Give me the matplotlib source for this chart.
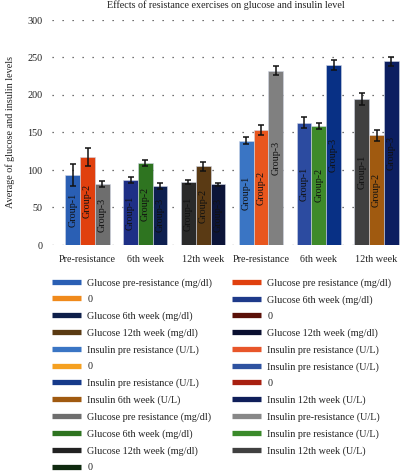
import numpy as np
import matplotlib.pyplot as plt
from matplotlib.lines import Line2D

# ----- data -----
categories = ["Pre-resistance", "6th week", "12th week",
              "Pre-resistance", "6th week", "12th week"]
groups = ["Group-1", "Group-2", "Group-3"]

# rows = categories, cols = group 1..3
means = np.array([
    [93, 117, 81],
    [87, 109, 79],
    [84, 105, 81],
    [139, 153, 232],
    [163, 159, 240],
    [194, 146, 245],
])
errors = np.array([
    [15, 12, 4],
    [4, 4, 4],
    [3, 6, 2],
    [5, 7, 6],
    [7, 4, 7],
    [8, 7, 6],
])
bar_colors = [
    ["#2a5fb4", "#e0400e", "#6e6e6e"],
    ["#1e2f86", "#2e7420", "#0e2050"],
    ["#2a2a2a", "#5a3a14", "#0c1438"],
    ["#3a75c4", "#e8561e", "#808080"],
    ["#2c4ba0", "#3e8a2a", "#083085"],
    ["#404040", "#a05a10", "#0c1e60"],
]

legend_left_labels = [
    "Glucose pre-resistance (mg/dl)", "0", "Glucose 6th week (mg/dl)",
    "Glucose 12th week (mg/dl)", "Insulin pre resistance (U/L)", "0",
    "Insulin pre resistance (U/L)", "Insulin 6th week (U/L)",
    "Glucose pre resistance (mg/dl)", "Glucose 6th week (mg/dl)",
    "Glucose 12th week (mg/dl)", "0",
]
legend_left_colors = [
    "#2a5fb4", "#f08a1c", "#0e1f4a", "#5a3a12", "#3a75c4", "#f5a020",
    "#163a8a", "#a05a10", "#6e6e6e", "#2e7420", "#222222", "#0f2a0f",
]
legend_right_labels = [
    "Glucose pre resistance (mg/dl)", "Glucose 6th week (mg/dl)", "0",
    "Glucose 12th week (mg/dl)", "Insulin pre resistance (U/L)",
    "Insulin pre resistance (U/L)", "0", "Insulin 12th week (U/L)",
    "Insulin pre-resistance (U/L)", "Insulin pre resistance (U/L)",
    "Insulin 12th week (U/L)",
]
legend_right_colors = [
    "#e0400e", "#1e3a8a", "#5a1008", "#0a0f30", "#e8562a", "#2e52a0",
    "#a82010", "#0f1e5a", "#888888", "#3a8a2a", "#404040",
]

plt.rcParams['font.family'] = ['Liberation Serif', 'DejaVu Serif']
text_color = "#222222"

fig = plt.figure(figsize=(4.09, 4.73), dpi=100)
ax = fig.add_axes([52 / 409, 1 - 245 / 473, 348 / 409, 225 / 473])

x = np.arange(len(categories))
width = 0.255
for g in range(len(groups)):
    xs = x + (g - 1) * width
    cols = [bar_colors[c][g] for c in range(len(categories))]
    bars = ax.bar(xs, means[:, g], width, color=cols, edgecolor="#d0d6e4",
                  linewidth=0.4, zorder=2)
    ax.errorbar(xs, means[:, g], yerr=errors[:, g], fmt='none', ecolor='#111111',
                elinewidth=1.1, capsize=2.5, capthick=1.1, zorder=3)
    for xi, h in zip(xs, means[:, g]):
        ax.text(xi, h / 2, groups[g], rotation=90, ha='center', va='center',
                fontsize=7.2, color='#111111', zorder=4)

ax.set_xlim(-0.615, 5.405)
ax.set_ylim(0, 300)
ax.set_yticks(np.arange(0, 301, 50))
ax.set_xticks(x)
ax.set_xticklabels(categories)
ax.tick_params(axis='both', length=0, labelsize=7.3, colors=text_color)
ax.tick_params(axis='x', pad=7)
ax.tick_params(axis='y', pad=7)
for s in ax.spines.values():
    s.set_visible(False)
ax.yaxis.grid(True, linestyle=(0, (1, 7)), color='#444444', linewidth=0.9, zorder=0)
ax.set_axisbelow(True)

ax.set_title("Effects of resistance exercises on glucose and insulin level",
             fontsize=7.3, color=text_color, pad=9)
fig.text(5 / 409, 1 - 132 / 473, "Average of glucose and insulin levels",
         rotation=90, ha='left', va='center', fontsize=7.3, color=text_color)

def make_legend(labels, colors, left_px):
    handles = [Line2D([], [], color=c, linewidth=3.8, solid_capstyle='butt')
               for c in colors]
    fig.legend(handles, labels, loc='upper left',
               bbox_to_anchor=(left_px / 409, 1 - 278 / 473),
               frameon=False, fontsize=7.3, labelcolor=text_color,
               handlelength=2.9, handletextpad=0.6, labelspacing=0.72,
               borderpad=0, borderaxespad=0)

make_legend(legend_left_labels, legend_left_colors, 52)
make_legend(legend_right_labels, legend_right_colors, 232)

fig.savefig("out.png", dpi=100)
